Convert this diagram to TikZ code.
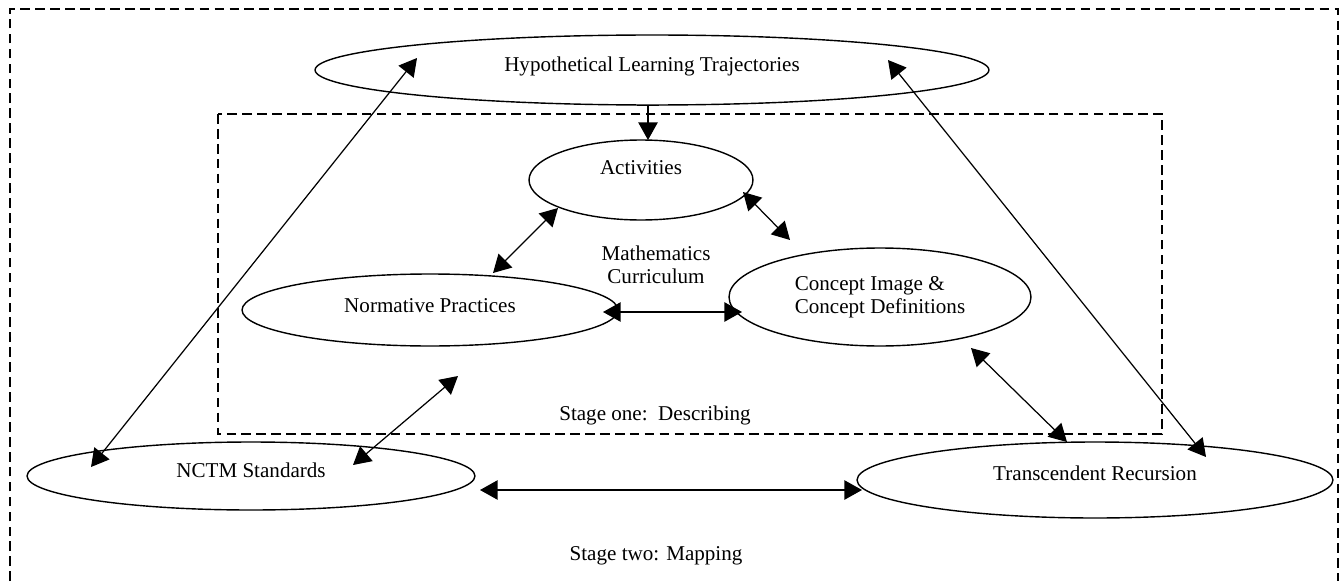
\documentclass[tikz,border=0pt]{standalone}
\usepackage{fontspec}
\setmainfont{Liberation Serif}
\usetikzlibrary{arrows.meta,shapes.geometric}

\begin{document}
\begin{tikzpicture}[x=0.02cm, y=-0.02cm,
  oval/.style={draw, ellipse, line width=0.8pt, inner sep=0pt, outer sep=0pt, font=\fontsize{12}{13}\selectfont},
  txt/.style={text height=9pt, text depth=#1},
  caption/.style={inner sep=0pt, font=\fontsize{12}{13}\selectfont},
  stagebox/.style={line width=0.7pt, dash pattern=on 5.5pt off 3pt},
  link/.style={line width=0.7pt, <->},
  >={Triangle[length=10pt, width=11pt]}]
  \useasboundingbox (0,0) rectangle (1341,581);
  \draw[stagebox] (10,581) -- (10,9) -- (1338,9) -- (1338,581);
  \draw[stagebox] (218,114) rectangle (1162,434);
  \node[oval, txt=6.8pt, minimum width=13.48cm, minimum height=1.4cm] (hlt) at (652,70) {Hypothetical Learning Trajectories};
  \node[oval, txt=15.8pt, minimum width=4.48cm, minimum height=1.6cm] (act) at (641,180) {Activities};
  \node[oval, txt=5.6pt, minimum width=7.52cm, minimum height=1.44cm] (norm) at (430,310) {Normative Practices};
  \node[oval, minimum width=6.04cm, minimum height=1.96cm, align=left] (con) at (880,297) {Concept Image \&\\Concept Definitions};
  \node[oval, txt=6.8pt, minimum width=8.96cm, minimum height=1.36cm] (nctm) at (251,476) {NCTM Standards};
  \node[oval, txt=9pt, minimum width=9.52cm, minimum height=1.52cm] (trans) at (1095,480) {Transcendent Recursion};
  \node[caption, align=center] (curric) at (656,265) {Mathematics\\Curriculum};
  \node[caption] (stageone) at (655,415) {Stage one:\ \ Describing};
  \node[caption] (stagetwo) at (656,556) {Stage two: Mapping};
  \coordinate (hltA) at (417,58);
  \coordinate (nctmA) at (91,467);
  \coordinate (hltB) at (888,60);
  \coordinate (transB) at (1206,457);
  \coordinate (actA) at (558,208);
  \coordinate (normA) at (493,273);
  \coordinate (actB) at (743,192);
  \coordinate (conB) at (790,240);
  \coordinate (normB) at (603,312);
  \coordinate (conC) at (742,312);
  \coordinate (normC) at (458,376);
  \coordinate (nctmB) at (353,465);
  \coordinate (conD) at (971,348);
  \coordinate (transC) at (1067,442);
  \coordinate (nctmC) at (480,490);
  \coordinate (transD) at (862,490);
  \draw[link] (hltA) -- (nctmA);
  \draw[link] (hltB) -- (transB);
  \draw[line width=0.7pt, {Bar[width=12pt]}->] ([xshift=0.14cm]act.north |- hlt.south) -- ([xshift=0.14cm]act.north);
  \draw[link] (actA) -- (normA);
  \draw[link] (actB) -- (conB);
  \draw[link] (normB) -- (conC);
  \draw[link] (normC) -- (nctmB);
  \draw[link] (conD) -- (transC);
  \draw[link] (nctmC) -- (transD);
\end{tikzpicture}
\end{document}
